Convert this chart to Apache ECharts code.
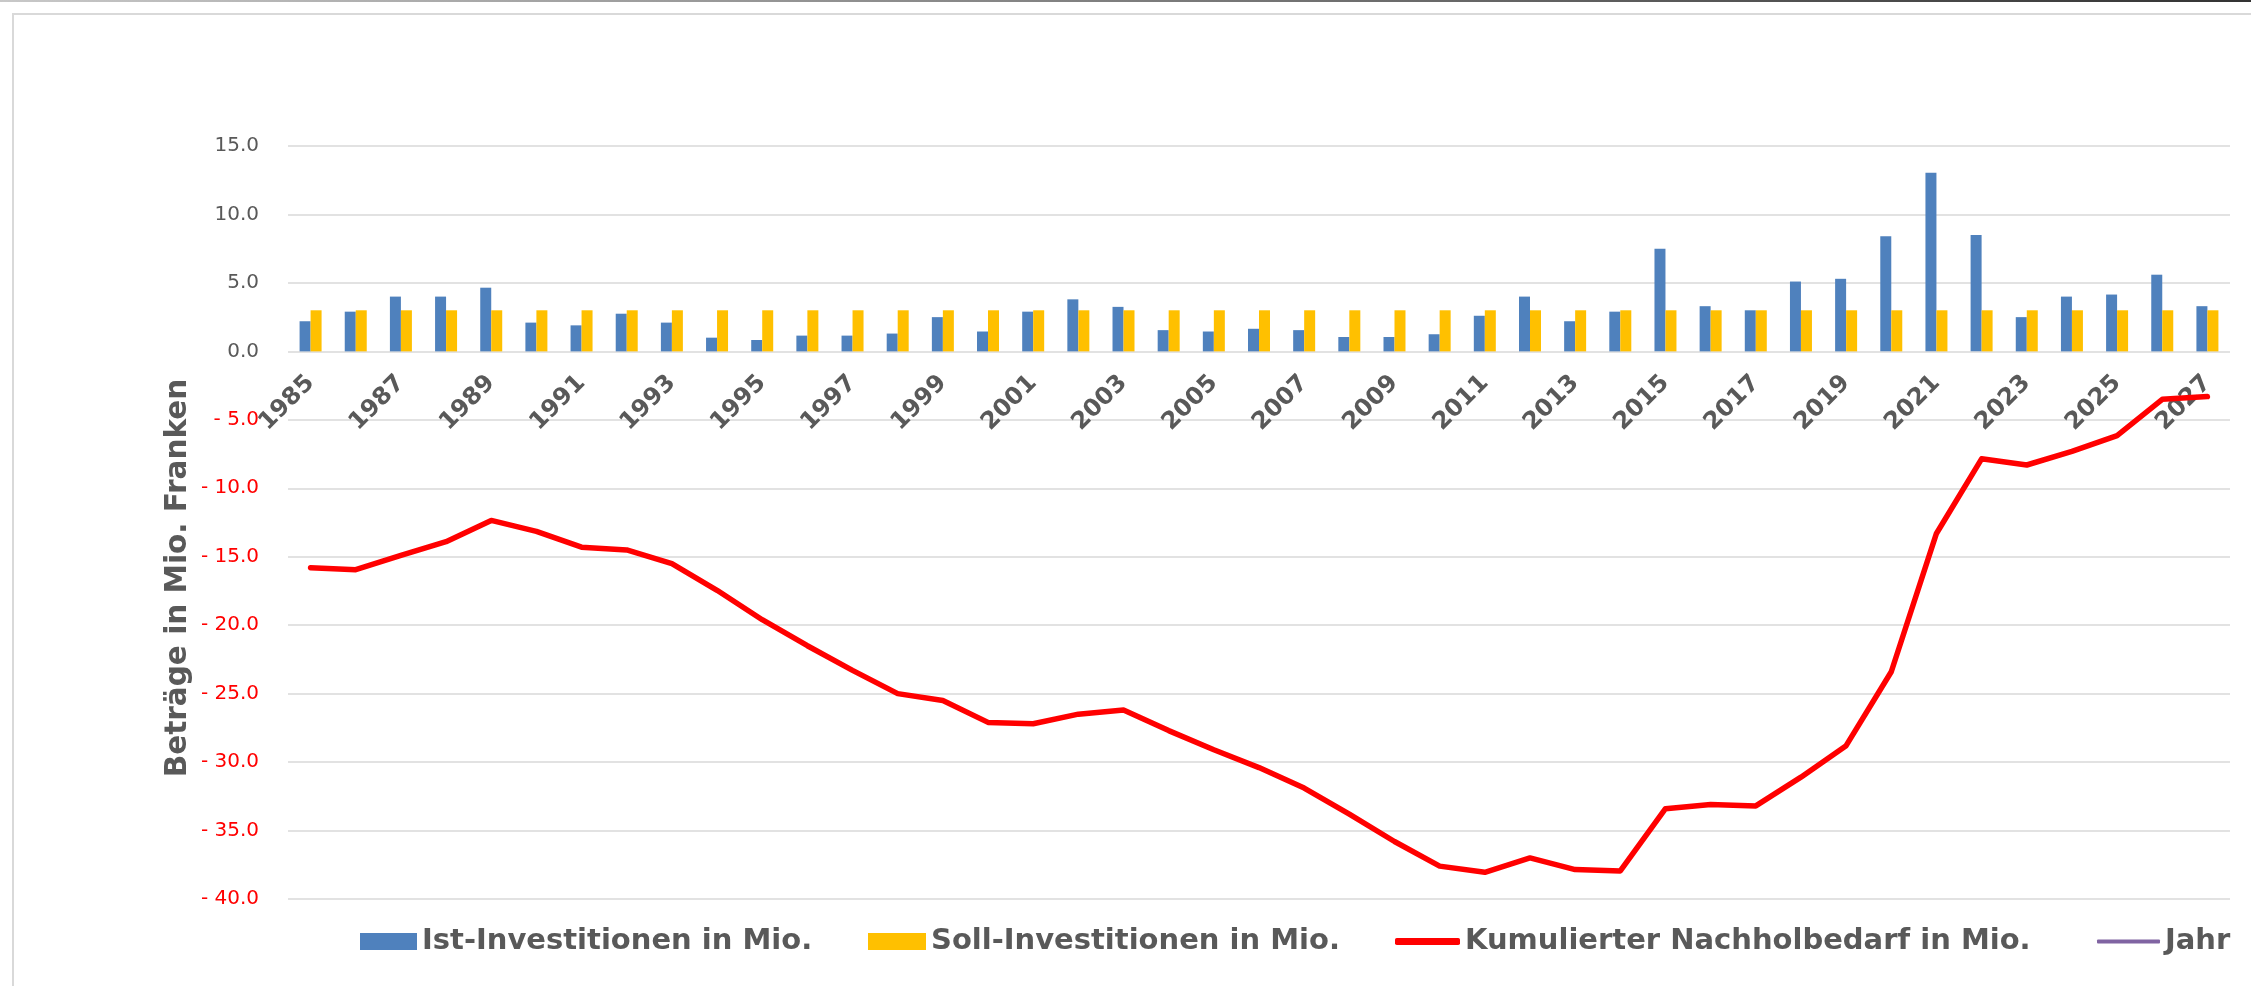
<!DOCTYPE html>
<html>
<head>
<meta charset="utf-8">
<script src="https://cdn.jsdelivr.net/npm/echarts@6/dist/echarts.min.js"></script>
<style>
html,body{margin:0;padding:0;background:#fff;}
#chart{width:2251px;height:986px;}
</style>
</head>
<body>
<div id="chart"></div>
<script>
// ---- data ----
var years = ['1985','1986','1987','1988','1989','1990','1991','1992','1993','1994',
             '1995','1996','1997','1998','1999','2000','2001','2002','2003','2004',
             '2005','2006','2007','2008','2009','2010','2011','2012','2013','2014',
             '2015','2016','2017','2018','2019','2020','2021','2022','2023','2024',
             '2025','2026','2027'];
var istInvestitionen = [2.2, 2.9, 4.0, 4.0, 4.65, 2.1, 1.9, 2.75, 2.1, 1.0,
                        0.83, 1.15, 1.15, 1.3, 2.5, 1.45, 2.9, 3.8, 3.25, 1.55,
                        1.45, 1.65, 1.55, 1.05, 1.05, 1.25, 2.6, 4.0, 2.2, 2.9,
                        7.5, 3.3, 3.0, 5.1, 5.3, 8.4, 13.05, 8.5, 2.5, 4.0,
                        4.15, 5.6, 3.3];
var sollInvestitionen = [3.0, 3.0, 3.0, 3.0, 3.0, 3.0, 3.0, 3.0, 3.0, 3.0,
                         3.0, 3.0, 3.0, 3.0, 3.0, 3.0, 3.0, 3.0, 3.0, 3.0,
                         3.0, 3.0, 3.0, 3.0, 3.0, 3.0, 3.0, 3.0, 3.0, 3.0,
                         3.0, 3.0, 3.0, 3.0, 3.0, 3.0, 3.0, 3.0, 3.0, 3.0,
                         3.0, 3.0, 3.0];
var nachholbedarf = [-15.8, -15.95, -14.9, -13.9, -12.35, -13.15, -14.3, -14.5, -15.5, -17.45,
                     -19.6, -21.5, -23.3, -25.0, -25.5, -27.1, -27.2, -26.5, -26.2, -27.7,
                     -29.1, -30.4, -31.9, -33.8, -35.8, -37.6, -38.05, -37.0, -37.85, -37.95,
                     -33.4, -33.1, -33.2, -31.1, -28.8, -23.4, -13.3, -7.85, -8.3, -7.3,
                     -6.15, -3.5, -3.3];
var jahr = [];
var seriesNames = ['Ist-Investitionen in Mio.', 'Soll-Investitionen in Mio.',
                   'Kumulierter Nachholbedarf in Mio.', 'Jahr'];
var axisTitle = 'Beträge in Mio. Franken';
var yMin = -40, yMax = 15, yStep = 5;

// ---- chart ----
var chart = echarts.init(document.getElementById('chart'), null, {renderer: 'canvas'});
var FONT = "'DejaVu Sans', sans-serif";
var GRAY = '#595959';
var legendText = {color: GRAY, fontFamily: FONT, fontWeight: 'bold', fontSize: 29};

var GRID_TOP = 146, GRID_BOTTOM = 87, H = 986;
var plotH = H - GRID_TOP - GRID_BOTTOM;
// distance from the bottom of the plot up to the value 0 (category axis sits at zero)
var zeroOffset = plotH * (0 - yMin) / (yMax - yMin);

function mkLegend(name, left, w, h, icon) {
  return {
    data: [{name: name, icon: icon}],
    left: left, top: 927, padding: 0,
    itemWidth: w, itemHeight: h, itemGap: 0,
    textStyle: legendText,
    selectedMode: false
  };
}

var option = {
  backgroundColor: '#ffffff',
  animation: false,
  graphic: [
    {type: 'line', shape: {x1: 0, y1: 1, x2: 2251, y2: 1},
     style: {lineWidth: 2, stroke: new echarts.graphic.LinearGradient(0, 0, 1, 0,
        [{offset: 0, color: '#c8c8c8'}, {offset: 1, color: '#333333'}])}},
    {type: 'rect', shape: {x: 13, y: 14, width: 2400, height: 1200},
     style: {fill: 'none', stroke: '#D9D9D9', lineWidth: 2}},
    {type: 'text', x: 178, y: 578, rotation: Math.PI / 2,
     style: {text: axisTitle, fill: GRAY, font: "bold 29.5px 'DejaVu Sans', sans-serif",
             align: 'center', verticalAlign: 'middle'}}
  ],
  grid: {left: 288, right: 21, top: GRID_TOP, bottom: GRID_BOTTOM, containLabel: false},
  legend: [
    mkLegend(seriesNames[0], 360, 57, 17, 'rect'),
    mkLegend(seriesNames[1], 868, 58, 17, 'rect'),
    mkLegend(seriesNames[2], 1395, 65, 7, 'roundRect'),
    mkLegend(seriesNames[3], 2097, 63, 4, 'roundRect')
  ],
  xAxis: {
    type: 'category',
    data: years,
    position: 'bottom',
    offset: -zeroOffset,
    axisLine: {show: false, onZero: false},
    axisTick: {show: false},
    axisLabel: {
      interval: 1, rotate: 45, margin: 28,
      color: GRAY, fontFamily: FONT, fontWeight: 'bold', fontSize: 24
    },
    splitLine: {show: false}
  },
  yAxis: {
    type: 'value',
    min: yMin, max: yMax, interval: yStep,
    axisLine: {show: false},
    axisTick: {show: false},
    splitLine: {lineStyle: {color: '#D9D9D9', width: 1.5}},
    axisLabel: {
      margin: 29, fontFamily: FONT, fontSize: 20,
      formatter: function (v) {
        v = Number(v);
        return v < 0 ? '- ' + Math.abs(v).toFixed(1) : v.toFixed(1);
      },
      color: function (v) { return Number(v) < 0 ? '#FF0000' : GRAY; }
    }
  },
  series: [
    {name: seriesNames[0], type: 'bar', data: istInvestitionen, barWidth: 11, barGap: '0%',
     color: '#4F81BD', itemStyle: {color: '#4F81BD'}},
    {name: seriesNames[1], type: 'bar', data: sollInvestitionen, barWidth: 11, barGap: '0%',
     color: '#FFC000', itemStyle: {color: '#FFC000'}},
    {name: seriesNames[2], type: 'line', data: nachholbedarf, symbol: 'none', z: 5,
     color: '#FF0000', itemStyle: {color: '#FF0000'},
     lineStyle: {color: '#FF0000', width: 5.5, cap: 'round', join: 'round'}},
    {name: seriesNames[3], type: 'line', data: jahr, symbol: 'none',
     color: '#8064A2', itemStyle: {color: '#8064A2'},
     lineStyle: {color: '#8064A2', width: 3}}
  ]
};
chart.setOption(option);
</script>
</body>
</html>
